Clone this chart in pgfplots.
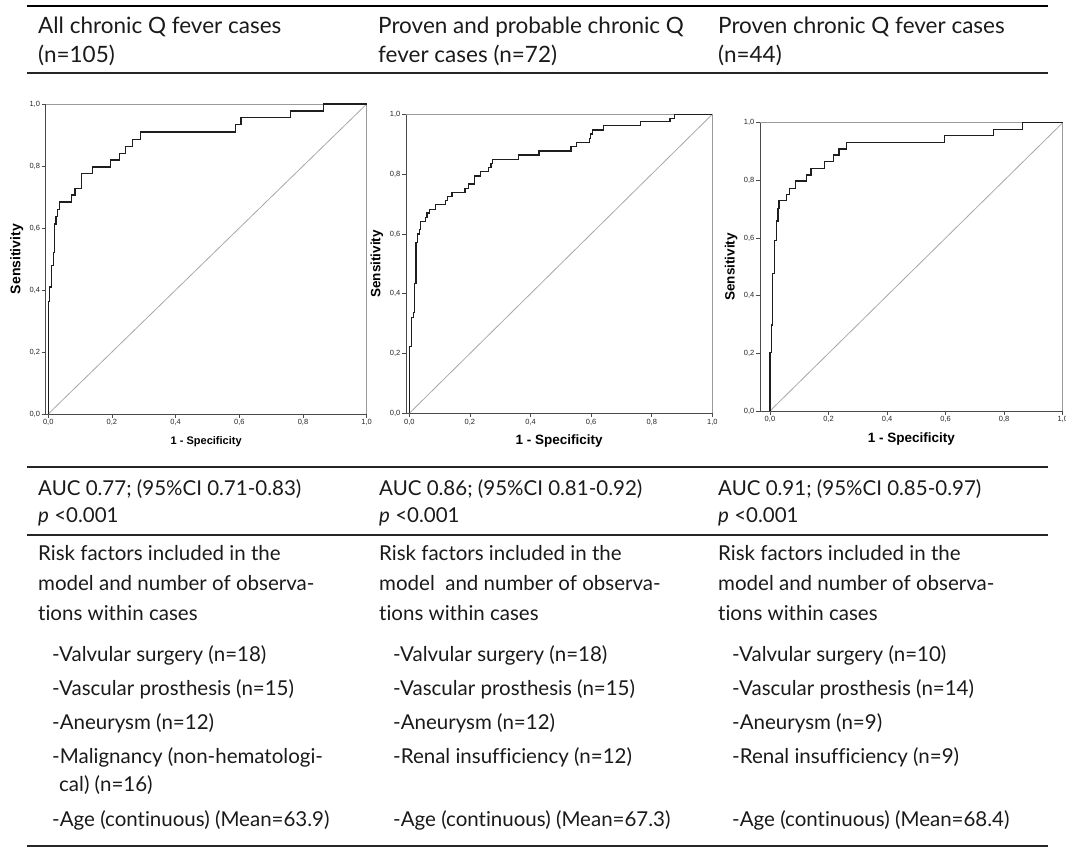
\documentclass[border=0pt]{standalone}
\usepackage{fontspec}
\setmainfont{Lato}[Ligatures=NoCommon]
\newfontfamily\arialfont{Liberation Sans}
\usepackage{pgfplots}
\pgfplotsset{compat=1.18}

\definecolor{curve}{HTML}{1E1E1E}
\definecolor{diag}{HTML}{A8A8A8}
\definecolor{frameDark}{HTML}{4A4A4A}
\definecolor{frameLight}{HTML}{9A9A9A}
\definecolor{ink}{HTML}{1A1A1A}

\newcommand\tablefont{\fontsize{20.5bp}{25bp}\selectfont}
\newcommand\headfont{\fontsize{22.5bp}{26bp}\selectfont}
\newcommand\tx[3]{\node[anchor=base west, inner sep=0pt, text=ink, font=\tablefont] at (#1bp,-#2bp) {#3};}
\newcommand\hd[3]{\node[anchor=base west, inner sep=0pt, text=ink, font=\headfont] at (#1bp,-#2bp) {#3};}

\pgfplotsset{
  roc/.style={
    scale only axis,
    anchor=south west,
    xmax=1, ymin=0, ymax=1,
    axis x line*=bottom, axis y line*=left,
    axis line style={-, draw=frameDark, line width=0.9bp},
    tick align=outside,
    major tick length=4bp,
    tick style={draw=frameDark, line width=0.7bp},
    xtick={0,0.2,0.4,0.6,0.8,1},
    ytick={0,0.2,0.4,0.6,0.8,1},
    xticklabels={{0,0},{0,2},{0,4},{0,6},{0,8},{1,0}},
    yticklabels={{0,0},{0,2},{0,4},{0,6},{0,8},{1,0}},
    tick label style={font=\arialfont\fontsize{7.5bp}{8bp}\selectfont, text=black!85, inner sep=1.5bp},
    xlabel={1 - Specificity},
    ylabel={Sensitivity},
    every axis x label/.style={at={(rel axis cs:0.5,0)}, yshift=-28bp, anchor=center,
      font=\arialfont\bfseries\fontsize{13.5bp}{14bp}\selectfont},
    every axis y label/.style={at={(rel axis cs:0,0.5)}, xshift=-29bp, anchor=center, rotate=90,
      font=\arialfont\bfseries\fontsize{13.5bp}{14bp}\selectfont},
    clip=false,
  },
  rocline/.style={const plot, draw=curve, line width=1.3bp, mark=none},
  diagline/.style={draw=diag, line width=0.8bp, mark=none},
}

% ROC coordinates (1 - specificity, sensitivity) at each step corner
\pgfplotstableread{
x y
0 0
0 0.362
0.005 0.410
0.011 0.479
0.016 0.522
0.019 0.613
0.024 0.636
0.028 0.659
0.035 0.684
0.074 0.706
0.084 0.728
0.105 0.775
0.140 0.797
0.195 0.819
0.223 0.841
0.242 0.864
0.265 0.886
0.289 0.910
0.587 0.934
0.605 0.957
0.761 0.977
0.865 1
1 1
}\rocall

\pgfplotstableread{
x y
0 0
0 0.223
0.008 0.320
0.014 0.338
0.018 0.433
0.022 0.571
0.027 0.600
0.033 0.615
0.037 0.641
0.053 0.656
0.058 0.670
0.067 0.682
0.086 0.698
0.120 0.711
0.127 0.725
0.141 0.739
0.184 0.753
0.196 0.767
0.216 0.794
0.234 0.808
0.261 0.823
0.270 0.836
0.275 0.850
0.361 0.864
0.428 0.877
0.534 0.892
0.552 0.905
0.594 0.918
0.598 0.934
0.604 0.948
0.641 0.962
0.762 0.976
0.860 0.987
0.875 1
1 1
}\rocprob

\pgfplotstableread{
x y
0 0
0 0.203
0.006 0.298
0.009 0.477
0.015 0.591
0.023 0.659
0.027 0.703
0.031 0.729
0.056 0.751
0.066 0.772
0.088 0.798
0.125 0.819
0.140 0.842
0.186 0.865
0.216 0.888
0.236 0.909
0.262 0.932
0.596 0.955
0.763 0.977
0.862 1
1 1
}\rocproven

\pgfplotstableread{
x y
0 0
1 1
}\reference

\begin{document}
\begin{tikzpicture}
\path[use as bounding box] (0,0) rectangle (1066bp,-848bp);

% table rules
\draw[black, line width=2.6bp] (27bp,-6bp) -- (1048bp,-6bp);
\draw[black!85, line width=1.2bp] (27bp,-73bp) -- (1048bp,-73bp);
\draw[black!85, line width=1.2bp] (27bp,-467bp) -- (1048bp,-467bp);
\draw[black!85, line width=1.2bp] (27bp,-535bp) -- (1048bp,-535bp);
\draw[black!85, line width=1.4bp] (27bp,-846bp) -- (1048bp,-846bp);

% column headers
\hd{38}{33}{All chronic Q fever cases}
\hd{38}{62}{(n=105)}
\hd{378}{33}{Proven and probable chronic Q}
\hd{378}{62}{fever cases (n=72)}
\hd{718}{33}{Proven chronic Q fever cases}
\hd{718}{62}{(n=44)}

% ROC: all cases
\begin{axis}[roc, at={(45.7bp,-414bp)}, width=321bp, height=310bp, xmin=-0.008,
  every axis x label/.append style={font=\arialfont\bfseries\fontsize{11bp}{12bp}\selectfont},
  every axis y label/.append style={font=\arialfont\bfseries\fontsize{14bp}{15bp}\selectfont}]
  \draw[frameLight, line width=0.8bp] (rel axis cs:0,1) -- (rel axis cs:1,1) -- (rel axis cs:1,0);
  \addplot[diagline] table[x=x, y=y] {\reference};
  \addplot[rocline] table[x=x, y=y] {\rocall};
\end{axis}

% ROC: proven and probable
\begin{axis}[roc, at={(406bp,-413.3bp)}, width=306.3bp, height=299bp, xmin=-0.011]
  \draw[frameLight, line width=0.8bp] (rel axis cs:0,1) -- (rel axis cs:1,1) -- (rel axis cs:1,0);
  \addplot[diagline] table[x=x, y=y] {\reference};
  \addplot[rocline] table[x=x, y=y] {\rocprob};
\end{axis}

% ROC: proven
\begin{axis}[roc, at={(760bp,-411bp)}, width=302.7bp, height=288.3bp, xmin=-0.034]
  \draw[frameLight, line width=0.8bp] (rel axis cs:0,1) -- (rel axis cs:1,1) -- (rel axis cs:1,0);
  \addplot[diagline] table[x=x, y=y] {\reference};
  \addplot[rocline] table[x=x, y=y] {\rocproven};
\end{axis}

% AUC row
\tx{38}{495}{AUC 0.77; (95\%CI 0.71-0.83)}
\tx{38}{522}{\textit{p} <0.001}
\tx{379}{495}{AUC 0.86; (95\%CI 0.81-0.92)}
\tx{379}{522}{\textit{p} <0.001}
\tx{718}{495}{AUC 0.91; (95\%CI 0.85-0.97)}
\tx{718}{522}{\textit{p} <0.001}

% risk factor rows
\tx{38}{560}{Risk factors included in the}
\tx{38}{590}{model and number of observa-}
\tx{38}{620}{tions within cases}
\tx{379}{560}{Risk factors included in the}
\tx{379}{590}{model\ \ and number of observa-}
\tx{379}{620}{tions within cases}
\tx{718}{560}{Risk factors included in the}
\tx{718}{590}{model and number of observa-}
\tx{718}{620}{tions within cases}

\tx{52}{661}{-Valvular surgery (n=18)}
\tx{52}{695}{-Vascular prosthesis (n=15)}
\tx{52}{729}{-Aneurysm (n=12)}
\tx{52}{763}{-Malignancy (non-hematologi-}
\tx{59}{791}{cal) (n=16)}
\tx{52}{826}{-Age (continuous) (Mean=63.9)}

\tx{393}{661}{-Valvular surgery (n=18)}
\tx{393}{695}{-Vascular prosthesis (n=15)}
\tx{393}{729}{-Aneurysm (n=12)}
\tx{393}{763}{-Renal insufficiency (n=12)}
\tx{393}{826}{-Age (continuous) (Mean=67.3)}

\tx{732}{661}{-Valvular surgery (n=10)}
\tx{732}{695}{-Vascular prosthesis (n=14)}
\tx{732}{729}{-Aneurysm (n=9)}
\tx{732}{763}{-Renal insufficiency (n=9)}
\tx{732}{826}{-Age (continuous) (Mean=68.4)}
\end{tikzpicture}
\end{document}
